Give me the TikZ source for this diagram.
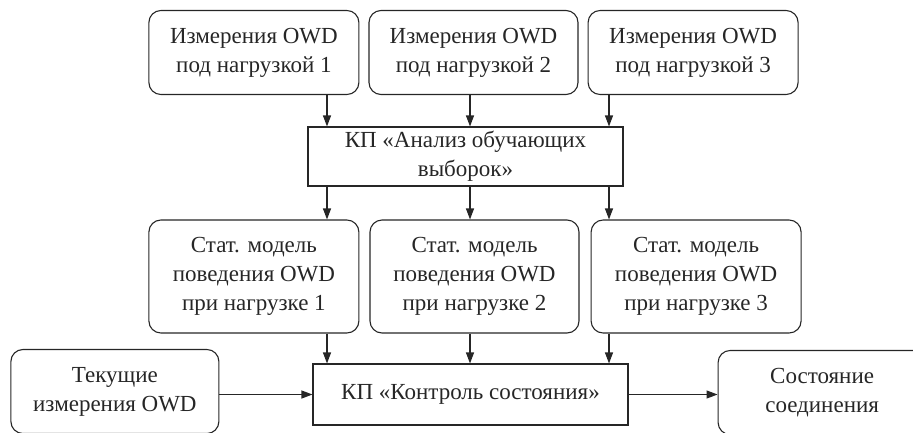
\documentclass[tikz,border=0pt]{standalone}
\usepackage{fontspec}
\setmainfont{Liberation Serif}
\usetikzlibrary{positioning,arrows.meta}
\definecolor{ink}{HTML}{262626}
\begin{document}
\begin{tikzpicture}[x=1pt,y=-1pt,
  font=\fontsize{23}{29}\selectfont,
  rbox/.style={draw=ink, text=ink, line width=1.1pt, rounded corners=12pt, align=center, inner sep=0pt, minimum height=84pt, minimum width=210pt},
  kp/.style={draw=ink, text=ink, line width=1.1pt, align=center, inner sep=0pt, minimum width=315pt},
  flow/.style={draw=ink, line width=1.1pt, -{Triangle[length=11pt,width=8pt]}}]
  \useasboundingbox (0,0) rectangle (913,432);
  \clip (0,0) rectangle (913,432);
  \node[rbox, minimum width=209pt] (meas2) at (473.5,52.5) {Измерения OWD\\под нагрузкой 2};
  \node[rbox, left=9pt of meas2] (meas1) {Измерения OWD\\под нагрузкой 1};
  \node[rbox, right=9pt of meas2] (meas3) {Измерения OWD\\под нагрузкой 3};
  \node[kp, minimum height=59pt] (analiz) at (465.5,156.5) {КП «Анализ обучающих\\выборок»};
  \node[rbox, minimum width=209pt, minimum height=113pt] (model2) at (474.5,276.5) {Стат. модель\\поведения OWD\\при нагрузке 2};
  \node[rbox, minimum height=113pt, left=10pt of model2] (model1) {Стат. модель\\поведения OWD\\при нагрузке 1};
  \node[rbox, minimum height=113pt, right=11pt of model2] (model3) {Стат. модель\\поведения OWD\\при нагрузке 3};
  \node[kp, minimum height=61pt] (control) at (470.5,394.5) {КП «Контроль состояния»};
  \node[rbox, minimum width=208pt, left=93pt of control, yshift=3pt] (current) {Текущие\\измерения OWD};
  \node[rbox, minimum width=208pt, right=89pt of control, yshift=2pt] (state) {Состояние\\соединения};
  \coordinate (c1) at (327,0);
  \coordinate (c2) at (470,0);
  \coordinate (c3) at (609,0);
  \draw[flow] (meas1.south -| c1) -- (analiz.north -| c1);
  \draw[flow] (meas2.south -| c2) -- (analiz.north -| c2);
  \draw[flow] (meas3.south -| c3) -- (analiz.north -| c3);
  \draw[flow] (analiz.south -| c1) -- (model1.north -| c1);
  \draw[flow] (analiz.south -| c2) -- (model2.north -| c2);
  \draw[flow] (analiz.south -| c3) -- (model3.north -| c3);
  \draw[flow] (model1.south -| c1) -- (control.north -| c1);
  \draw[flow] (model2.south -| c2) -- (control.north -| c2);
  \draw[flow] (model3.south -| c3) -- (control.north -| c3);
  \draw[flow] (control.west -| current.east) -- (control.west);
  \draw[flow] (control.east) -- (control.east -| state.west);
\end{tikzpicture}
\end{document}
